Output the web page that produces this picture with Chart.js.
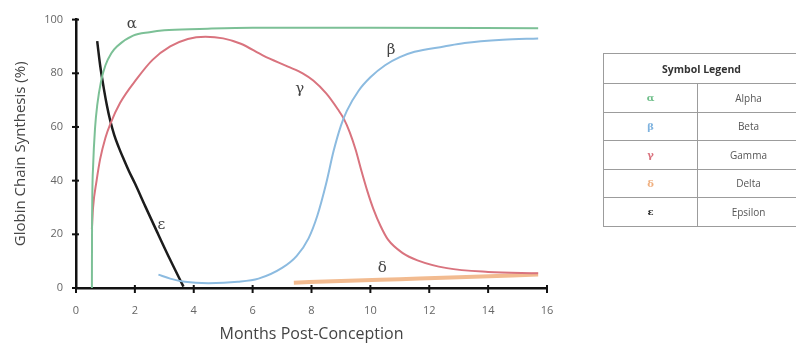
<!DOCTYPE html>
<html>
<head>
<meta charset="utf-8">
<script src="https://cdn.jsdelivr.net/npm/chart.js@4"></script>
<style>
  html, body { margin: 0; padding: 0; background: #fff; overflow: hidden; }
  #wrap { position: relative; width: 796px; height: 344px; }
  #legendTable {
    position: absolute; left: 603px; top: 53px; width: 196px;
    border-collapse: collapse; font-family: "Open Sans", sans-serif;
    font-size: 10px; color: #555; table-layout: fixed;
  }
  #legendTable td { border: 1px solid #9c9c9c; text-align: center; height: 27.5px; padding: 0; }
  #legendTable .head td { font-weight: bold; font-size: 10.5px; color: #333; height: 29px; }
  #legendTable .sym { font-family: "DejaVu Serif", serif; font-size: 10px; font-weight: bold; }
</style>
</head>
<body>
<div id="wrap">
  <canvas id="c" width="796" height="344"></canvas>
  <table id="legendTable">
    <colgroup><col style="width:94px"><col style="width:102px"></colgroup>
    <tr class="head"><td colspan="2">Symbol Legend</td></tr>
    <tr><td class="sym" style="color:#6fbf8a">α</td><td>Alpha</td></tr>
    <tr><td class="sym" style="color:#7fb3df">β</td><td>Beta</td></tr>
    <tr><td class="sym" style="color:#d9707c">γ</td><td>Gamma</td></tr>
    <tr><td class="sym" style="color:#f0b080">δ</td><td>Delta</td></tr>
    <tr><td class="sym" style="color:#222">ε</td><td>Epsilon</td></tr>
  </table>
</div>
<script>
// months post-conception / % of globin chain synthesis
const alphaMonths = [0.54, 0.545, 0.58, 0.65, 0.72, 0.85, 1.0, 1.2, 1.39, 1.94, 2.5, 3.0, 4.2, 6.0, 10.0, 15.7];
const alphaPct    = [0, 22, 45, 60, 68, 77, 83, 87.5, 90, 94, 95.3, 96, 96.5, 97, 97, 96.8];

const betaMonths = [2.8, 3.2, 3.7, 4.5, 5.5, 6.2, 7.0, 7.5, 7.9, 8.2, 8.5, 8.75, 9.0, 9.2, 9.6, 10.0, 10.5, 11.0, 11.5, 12.5, 13.2, 14.5, 15.7];
const betaPct    = [5, 3.5, 2.3, 1.8, 2.3, 3.5, 7.5, 12, 18.5, 27, 39, 51, 60.5, 66, 73.5, 78.5, 83, 86, 88, 90, 91.3, 92.5, 93];

const gammaMonths = [0.54, 0.58, 0.7, 0.82, 1.0, 1.16, 1.5, 2.07, 2.6, 3.2, 3.8, 4.4, 5.0, 5.6, 6.36, 7.2, 7.7, 8.06, 8.5, 8.9, 9.1, 9.3, 9.5, 9.7, 9.9, 10.1, 10.35, 10.6, 11.1, 11.6, 12.6, 14.0, 15.7];
const gammaPct    = [22, 30, 40, 48, 56, 61, 69, 78, 85, 90, 92.8, 93.6, 93, 91, 86.6, 82.5, 80, 77.3, 72.5, 66.5, 63, 58, 51.5, 43.5, 36, 29.5, 23, 18, 13, 10.3, 7.4, 6, 5.5];

const deltaMonths = [7.4, 9.0, 11.0, 13.0, 15.7];
const deltaPct    = [2, 2.6, 3.3, 4, 5];

const epsilonMonths = [0.72, 0.82, 0.95, 1.05, 1.16, 1.3, 1.45, 1.6, 1.8, 2.0, 2.35, 2.75, 3.2, 3.65];
const epsilonPct    = [92, 83, 74, 68, 62.5, 57, 52.5, 48.5, 43.5, 39, 30.5, 21, 10.5, 0.5];

const xTicks = [0, 2, 4, 6, 8, 10, 12, 14, 16];
const yTicks = [0, 20, 40, 60, 80, 100];

// greek letters placed next to each curve (data coordinates)
const curveLabels = ['α', 'β', 'γ', 'δ', 'ε'];
const labelMonths = [1.9, 10.7, 7.6, 10.4, 2.9];
const labelPct    = [98.5, 88.5, 74, 7.5, 23.5];

const pairs = (xs, ys) => xs.map((x, i) => ({ x: x, y: ys[i] }));

const greekPlugin = {
  id: 'greek',
  afterDraw(chart) {
    const ctx = chart.ctx, xs = chart.scales.x, ys = chart.scales.y;
    ctx.save();
    // axis tick marks crossing the axis lines
    ctx.strokeStyle = '#111';
    ctx.lineWidth = 2;
    yTicks.forEach(v => {
      const py = ys.getPixelForValue(v);
      ctx.beginPath(); ctx.moveTo(xs.left - 4, py); ctx.lineTo(xs.left + 3, py); ctx.stroke();
    });
    xTicks.forEach(v => {
      const px = xs.getPixelForValue(v);
      ctx.beginPath(); ctx.moveTo(px, ys.bottom - 3); ctx.lineTo(px, ys.bottom + 5); ctx.stroke();
    });
    ctx.fillStyle = '#444';
    ctx.font = '15px "DejaVu Serif", serif';
    ctx.textAlign = 'center';
    ctx.textBaseline = 'middle';
    curveLabels.forEach((t, i) => {
      ctx.fillText(t, xs.getPixelForValue(labelMonths[i]), ys.getPixelForValue(labelPct[i]));
    });
    ctx.restore();
  }
};

new Chart(document.getElementById('c'), {
  type: 'line',
  data: {
    datasets: [
      { label: 'Alpha', data: pairs(alphaMonths, alphaPct), borderColor: '#7cc096', borderWidth: 2 },
      { label: 'Beta', data: pairs(betaMonths, betaPct), borderColor: '#8cbbe0', borderWidth: 2 },
      { label: 'Gamma', data: pairs(gammaMonths, gammaPct), borderColor: '#d9737e', borderWidth: 2 },
      { label: 'Delta', data: pairs(deltaMonths, deltaPct), borderColor: '#f2bb90', borderWidth: 4 },
      { label: 'Epsilon', data: pairs(epsilonMonths, epsilonPct), borderColor: '#1c1c1c', borderWidth: 2.5 }
    ]
  },
  options: {
    responsive: false,
    animation: false,
    layout: { padding: { top: 11.4, right: 249, bottom: 0, left: 0 } },
    elements: {
      point: { radius: 0 },
      line: { cubicInterpolationMode: 'monotone' }
    },
    plugins: { legend: { display: false }, tooltip: { enabled: false } },
    scales: {
      x: {
        type: 'linear', min: 0, max: 16,
        afterBuildTicks: s => { s.ticks = xTicks.map(v => ({ value: v })); },
        afterFit: s => { s.height = 56; },
        grid: { display: false, drawTicks: false },
        border: { display: true, color: '#111', width: 2.5 },
        ticks: { padding: 16, color: '#666', font: { family: 'Open Sans', size: 11 } },
        title: { display: true, text: 'Months Post-Conception', color: '#444',
                 font: { family: 'Open Sans', size: 16 }, padding: { top: 0, bottom: 0 } }
      },
      y: {
        min: 0, max: 100,
        afterBuildTicks: s => { s.ticks = yTicks.map(v => ({ value: v })); },
        afterFit: s => { s.width = 76; },
        grid: { display: false, drawTicks: false },
        border: { display: true, color: '#111', width: 2.5 },
        ticks: { padding: 13, color: '#666', font: { family: 'Open Sans', size: 11 } },
        title: { display: true, text: 'Globin Chain Synthesis (%)', color: '#444',
                 font: { family: 'Open Sans', size: 15 }, padding: { top: 12, bottom: 0 } }
      }
    }
  },
  plugins: [greekPlugin]
});
</script>
</body>
</html>
